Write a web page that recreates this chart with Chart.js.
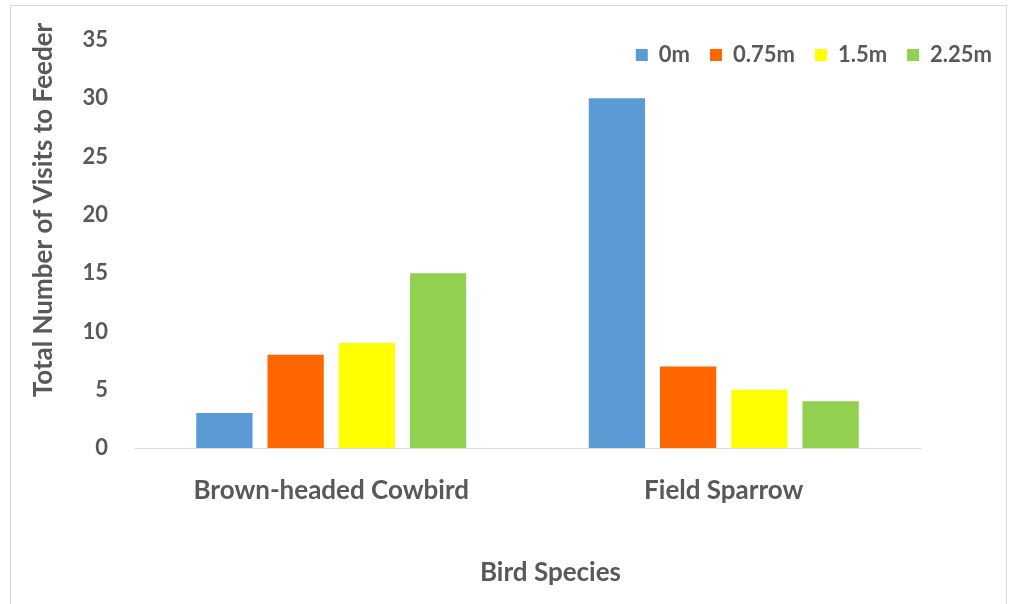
<!DOCTYPE html>
<html lang="en">
<head>
    <meta charset="UTF-8" />
    <title>Visits to Feeder</title>
    <script src="https://cdn.jsdelivr.net/npm/chart.js"></script>
    <style>
        body { margin: 0; background: #fff; }
        #wrap { width: 1013px; height: 604px; position: relative; }
    </style>
</head>
<body>
    <div id="wrap"><canvas id="birdChart"></canvas></div>

    <script>
        const species = ['Brown-headed Cowbird', 'Field Sparrow'];
        const distances = ['0m', '0.75m', '1.5m', '2.25m'];
        const visits0 = [3, 30];
        const visits075 = [8, 7];
        const visits15 = [9, 5];
        const visits225 = [15, 4];
        const barColors = ['#5B9BD5', '#FF6600', '#FFFF00', '#92D050'];
        const yTicks = [0, 5, 10, 15, 20, 25, 30, 35];

        const textColor = '#595959';
        const fontFamily = 'Lato, "Open Sans", sans-serif';

        const seriesValues = [visits0, visits075, visits15, visits225];

        // light frame around the whole chart
        const framePlugin = {
            id: 'frame',
            beforeDraw(chart) {
                const ctx = chart.ctx;
                ctx.save();
                ctx.fillStyle = '#ffffff';
                ctx.fillRect(0, 0, chart.width, chart.height);
                ctx.strokeStyle = '#d9d9d9';
                ctx.lineWidth = 1;
                ctx.strokeRect(10.5, 5.5, 996, 610);
                ctx.restore();
            }
        };

        // legend takes no room in the layout and sits in the top right corner
        const legendShift = {
            id: 'legendShift',
            beforeLayout(chart) {
                const lg = chart.legend;
                if (!lg || lg._noHeight) return;
                const fit = lg.fit;
                lg.fit = function () { fit.call(this); this.height = 0; };
                lg._noHeight = true;
            },
            afterLayout(chart) {
                const lg = chart.legend;
                if (!lg) return;
                const dx = 1012 - lg.right;
                lg.left += dx;
                lg.right += dx;
                lg.top = 24;
                lg.bottom = 64;
            }
        };

        // axis titles are centred a bit off the plot area in the original
        const titleShift = {
            id: 'titleShift',
            afterLayout(chart) {
                const shift = (scale, key, by) => {
                    if (!scale || scale._titleShifted) return;
                    const draw = scale.drawTitle;
                    scale.drawTitle = function () {
                        const a = this[key[0]], b = this[key[1]];
                        this[key[0]] += by;
                        this[key[1]] += by;
                        draw.call(this);
                        this[key[0]] = a;
                        this[key[1]] = b;
                    };
                    scale._titleShifted = true;
                };
                shift(chart.scales.x, ['left', 'right'], 23);
                shift(chart.scales.y, ['top', 'bottom'], -34);
            }
        };

        new Chart(document.getElementById('birdChart'), {
            type: 'bar',
            data: {
                labels: species,
                datasets: distances.map((d, i) => ({
                    label: d,
                    data: seriesValues[i],
                    backgroundColor: barColors[i],
                    borderWidth: 0,
                    categoryPercentage: 0.726,
                    barPercentage: 0.79
                }))
            },
            options: {
                responsive: true,
                maintainAspectRatio: false,
                animation: false,
                layout: { padding: { left: 20, right: 93, top: 40, bottom: 8 } },
                plugins: {
                    tooltip: { enabled: false },
                    legend: {
                        position: 'top',
                        align: 'end',
                        labels: {
                            boxWidth: 12,
                            boxHeight: 12,
                            padding: 20,
                            color: textColor,
                            font: { family: fontFamily, size: 22, weight: 'bold' }
                        }
                    }
                },
                scales: {
                    x: {
                        grid: { display: false },
                        border: { display: true, color: '#d9d9d9', width: 1 },
                        ticks: {
                            color: textColor,
                            padding: 19,
                            font: { family: fontFamily, size: 26, weight: 'bold' }
                        },
                        title: {
                            display: true,
                            text: 'Bird Species',
                            color: textColor,
                            padding: { top: 0, bottom: 8 },
                            font: { family: fontFamily, size: 26, weight: 'bold' }
                        },
                        afterFit(scale) { scale.height = 604 - 448 - 8; }
                    },
                    y: {
                        min: 0,
                        max: 35,
                        grid: { display: false },
                        border: { display: false },
                        afterBuildTicks(scale) { scale.ticks = yTicks.map(v => ({ value: v })); },
                        ticks: {
                            color: textColor,
                            padding: 19,
                            font: { family: fontFamily, size: 22, weight: 'bold' }
                        },
                        title: {
                            display: true,
                            text: 'Total Number of Visits to Feeder',
                            color: textColor,
                            padding: { top: 8, bottom: 0 },
                            font: { family: fontFamily, size: 26, weight: 'bold' }
                        },
                        afterFit(scale) { scale.width = 135 - 20; }
                    }
                }
            },
            plugins: [framePlugin, legendShift, titleShift]
        });
    </script>
</body>
</html>
